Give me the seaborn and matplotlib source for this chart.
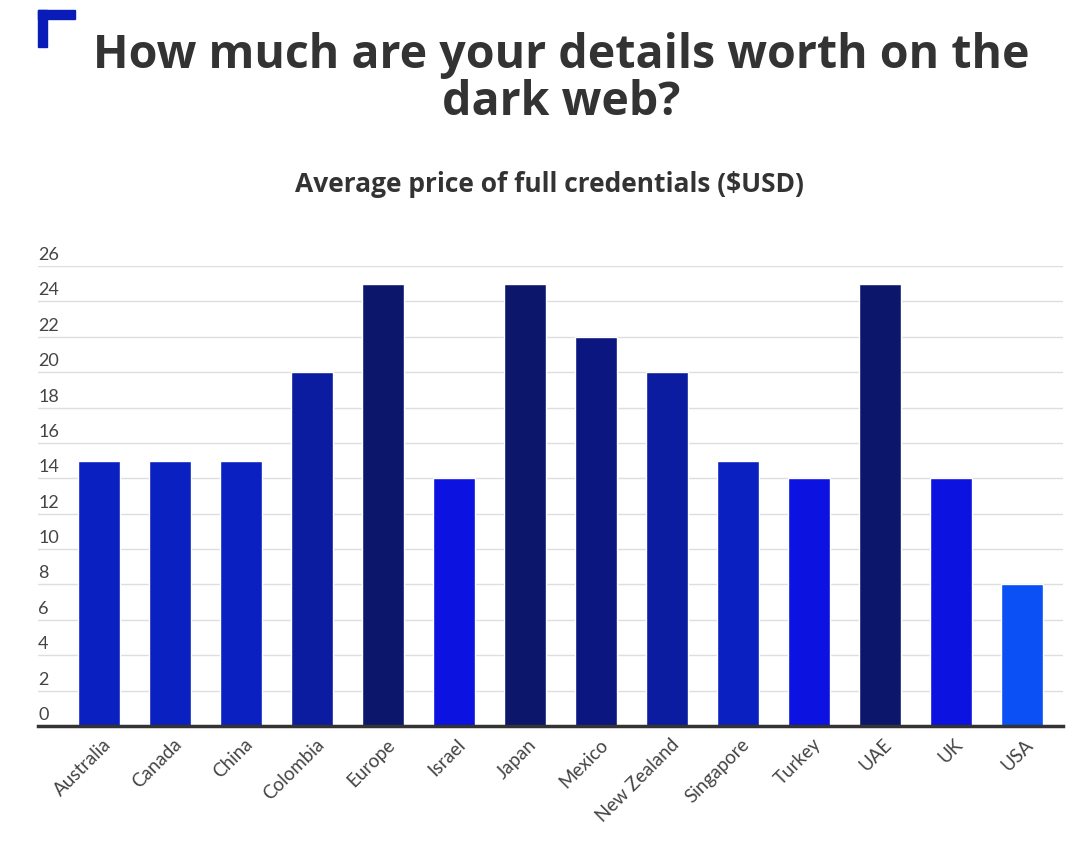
import matplotlib.pyplot as plt
import matplotlib.transforms as mtransforms
from matplotlib.patches import Rectangle
import pandas as pd
import seaborn as sns

countries = ["Australia", "Canada", "China", "Colombia", "Europe", "Israel", "Japan",
             "Mexico", "New Zealand", "Singapore", "Turkey", "UAE", "UK", "USA"]
prices = [15, 15, 15, 20, 25, 14, 25, 22, 20, 15, 14, 25, 14, 8]
yticks = list(range(0, 27, 2))

# darker blue for higher prices
shade = {25: "#0c176c", 22: "#0b1680", 20: "#0b1ca0", 15: "#0b20c0", 14: "#0c12e0", 8: "#0a50f5"}
colors = [shade[p] for p in prices]

df = pd.DataFrame({"country": countries, "price": prices})

sns.set_style("white")
plt.rcParams["font.family"] = ["Lato", "DejaVu Sans"]

fig = plt.figure(figsize=(10.8, 8.61), dpi=100)
ax = fig.add_axes([0.0352, 0.1568, 0.9491, 0.5343])

sns.barplot(data=df, x="country", y="price", hue="country", palette=colors,
            width=0.6, legend=False, ax=ax, saturation=1, zorder=3)

ax.set_ylim(0, 26)
ax.set_xlim(-0.86, 13.58)
ax.set_yticks(yticks)
ax.set_yticklabels([str(t) for t in yticks])
ax.set_xlabel("")
ax.set_ylabel("")
ax.grid(axis="y", color="#dedede", linewidth=1, zorder=0)
for s in ["top", "right", "left"]:
    ax.spines[s].set_visible(False)
ax.spines["bottom"].set_color("#333333")
ax.spines["bottom"].set_linewidth(2.5)
ax.spines["bottom"].set_zorder(4)

ax.tick_params(axis="y", length=0, pad=0, labelsize=13, labelcolor="#444444")
for lab in ax.get_yticklabels():
    lab.set_ha("left")
    lab.set_va("bottom")
    lab.set_transform(lab.get_transform() + mtransforms.ScaledTranslation(0, 3 / 100, fig.dpi_scale_trans))

ax.tick_params(axis="x", length=0, pad=7, labelsize=13.5, labelcolor="#444444")
for lab in ax.get_xticklabels():
    lab.set_rotation(45)
    lab.set_ha("right")
    lab.set_va("top")
    lab.set_rotation_mode("anchor")
    lab.set_transform(lab.get_transform() + mtransforms.ScaledTranslation(3 / 100, 0, fig.dpi_scale_trans))

fig.text(0.52, 0.908, "How much are your details worth on the\ndark web?", ha="center", va="center",
         fontsize=33.5, fontweight="bold", color="#333333", linespacing=1.0, family="Open Sans")
fig.text(0.509, 0.786, "Average price of full credentials ($USD)", ha="center", va="center",
         fontsize=19, fontweight="bold", color="#333333", family="Open Sans")

# corner mark
fig.patches.append(Rectangle((38 / 1080, 1 - 19 / 861), 37 / 1080, 9 / 861, transform=fig.transFigure,
                             color="#0a1cb8", zorder=5))
fig.patches.append(Rectangle((38 / 1080, 1 - 47 / 861), 9 / 1080, 37 / 861, transform=fig.transFigure,
                             color="#0a1cb8", zorder=5))

fig.savefig("out.png", dpi=100, facecolor="white")
